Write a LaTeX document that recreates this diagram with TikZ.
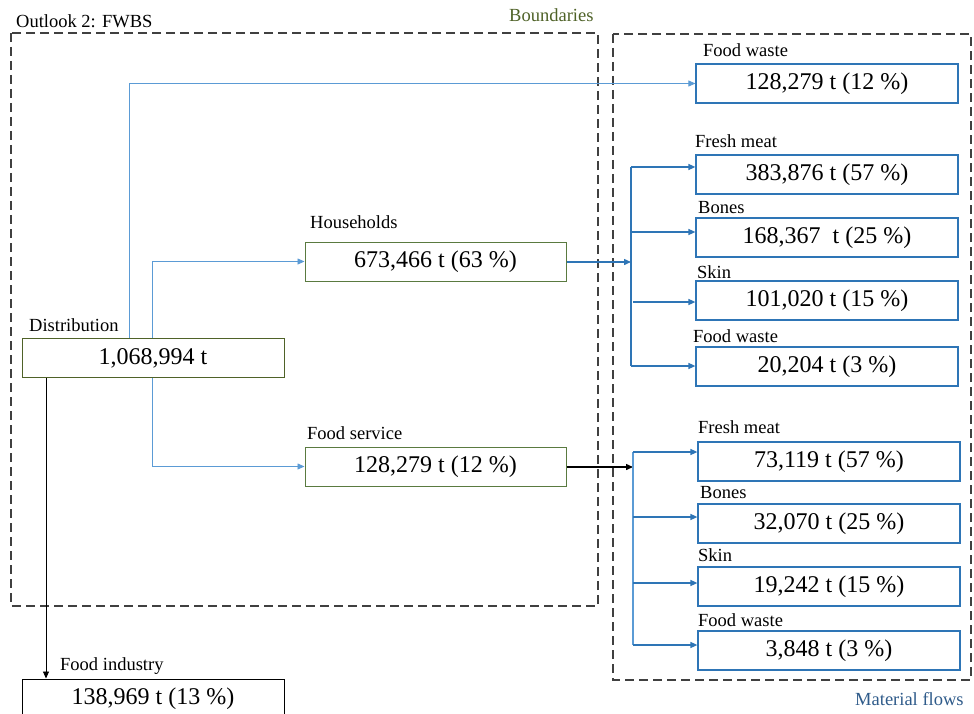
\documentclass[tikz,border=0pt]{standalone}
\usepackage{fontspec}
\setmainfont{Liberation Serif}
\usetikzlibrary{arrows.meta}
\definecolor{bgreen}{HTML}{4F6228}
\definecolor{boxgreen}{HTML}{5A7A40}
\definecolor{lblue}{HTML}{5B9BD5}
\definecolor{dblue}{HTML}{2E75B6}
\definecolor{mflow}{HTML}{2F5B8A}
\definecolor{dashgray}{HTML}{404040}
\tikzset{
  val/.style={font=\fontsize{24}{24}\selectfont, minimum width=262pt, minimum height=39pt, inner sep=0pt, line width=1pt},
  gbox/.style={val, draw=boxgreen},
  bbox/.style={val, draw=dblue, line width=1.2pt},
  kbox/.style={val, draw=black},
  lab/.style={font=\fontsize{18.5}{18.5}\selectfont, anchor=base west, inner sep=0pt},
  bound/.style={draw=dashgray, line width=1.2pt, dash pattern=on 9pt off 5pt},
  tip/.style={-{Triangle[length=7pt,width=6pt]}},
  thinflow/.style={tip, draw=lblue, line width=0.8pt},
  thickflow/.style={tip, draw=dblue, line width=1.4pt},
  blackflow/.style={tip, draw=black, line width=0.8pt},
}
\begin{document}
\begin{tikzpicture}[x=1pt,y=-1pt]
\useasboundingbox (0,0) rectangle (974,714);
\clip (0,0) rectangle (974,714);
% boundaries
\draw[bound] (11,33) rectangle (598,606);
\draw[bound] (613,34) rectangle (971,680);
\node[lab, text=bgreen] (tbound) at (509,22) {Boundaries};
\node[lab, text=mflow] (tmflow) at (855,705) {Material flows};
\node[lab] (ttitle) at (16,28) {Outlook 2: FWBS};
% left boxes
\node[gbox, draw=bgreen] (dist) at (153,358) {1,068,994 t};
\node[lab] (ldist) at (29,331) {Distribution};
\node[gbox, minimum width=261pt] (hh) at (435.5,261.5) {673,466 t (63 \%)};
\node[lab] (lhh) at (310,229) {Households};
\node[gbox, minimum width=261pt] (fs) at (435.5,466.5) {128,279 t (12 \%)};
\node[lab] (lfs) at (307,439) {Food service};
\node[kbox] (fi) at (153,698.5) {138,969 t (13 \%)};
\node[lab] (lfi) at (60,670) {Food industry};
% right boxes
\node[bbox] (fw0) at (827,83.5) {128,279 t (12 \%)};
\node[lab] (lfw0) at (703,57) {Food waste};
\node[bbox] (fm1) at (827,174.5) {383,876 t (57 \%)};
\node[lab] (lfm1) at (695,148) {Fresh meat};
\node[bbox] (bo1) at (827,237.5) {168,367~ t (25 \%)};
\node[lab] (lbo1) at (698,213) {Bones};
\node[bbox] (sk1) at (827,300.5) {101,020 t (15 \%)};
\node[lab] (lsk1) at (697,278) {Skin};
\node[bbox] (fw1) at (827,366.5) {20,204 t (3 \%)};
\node[lab] (lfw1) at (693,342) {Food waste};
\node[bbox] (fm2) at (829,461.5) {73,119 t (57 \%)};
\node[lab] (lfm2) at (698,433) {Fresh meat};
\node[bbox] (bo2) at (829,523.5) {32,070 t (25 \%)};
\node[lab] (lbo2) at (700,498) {Bones};
\node[bbox] (sk2) at (829,586.5) {19,242 t (15 \%)};
\node[lab] (lsk2) at (698,561) {Skin};
\node[bbox] (fw2) at (829,650.5) {3,848 t (3 \%)};
\node[lab] (lfw2) at (698,626) {Food waste};
% junction coordinates
\coordinate (jh) at (631,262);
\coordinate (jh1) at (631,167);
\coordinate (jh2) at (631,232);
\coordinate (jh3) at (633,302);
\coordinate (jh4) at (631,366);
\coordinate (jf) at (633,467);
\coordinate (jf1) at (633,452);
\coordinate (jf2) at (633,517);
\coordinate (jf3) at (633,583);
\coordinate (jf4) at (633,645);
% left connectors
\draw[thinflow] (dist.north -| 129,0) |- (fw0.west);
\draw[thinflow] (dist.north -| 152,0) |- (hh.west);
\draw[thinflow] (dist.south -| 152,0) |- (fs.west);
\draw[blackflow] (dist.south -| 46,0) -- (fi.north -| 46,0);
% households branches
\draw[thickflow] (hh.east |- jh) -- (jh);
\draw[draw=dblue, line width=1.4pt] (jh1) -- (jh4);
\draw[thickflow] (jh1) -- (fm1.west |- jh1);
\draw[thickflow] (jh2) -- (bo1.west |- jh2);
\draw[thickflow] (jh3) -- (sk1.west |- jh3);
\draw[thickflow] (jh4) -- (fw1.west |- jh4);
% food service branches
\draw[blackflow, line width=1.4pt] (fs.east |- jf) -- (jf);
\draw[draw=lblue, line width=1.6pt] (jf1) -- (jf4);
\draw[thickflow] (jf1) -- (fm2.west |- jf1);
\draw[thickflow] (jf2) -- (bo2.west |- jf2);
\draw[thickflow] (jf3) -- (sk2.west |- jf3);
\draw[thickflow] (jf4) -- (fw2.west |- jf4);
\end{tikzpicture}
\end{document}
